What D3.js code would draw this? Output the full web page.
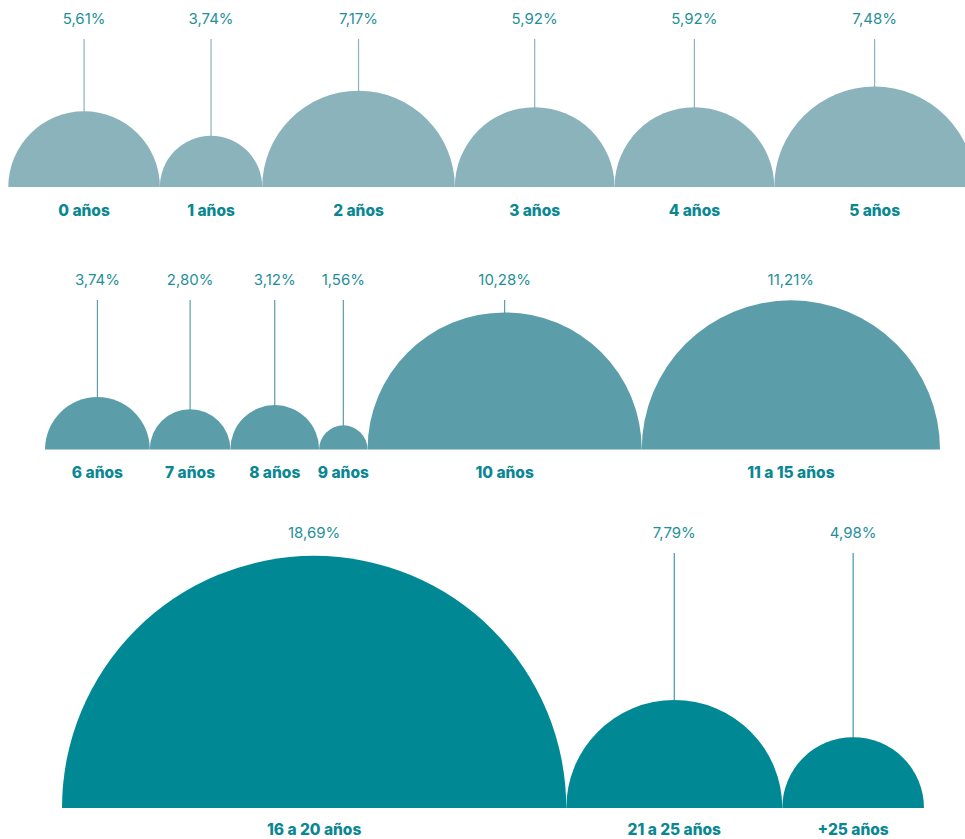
<!DOCTYPE html>
<html>
<head>
<meta charset="utf-8">
<script src="https://cdn.jsdelivr.net/npm/d3@7"></script>
<style>
  body { margin: 0; background: #fff; }
  svg { display: block; }
</style>
</head>
<body>
<div id="chart"></div>
<script>
// data: one pair of arrays per row
var categories1 = ["0 años", "1 años", "2 años", "3 años", "4 años", "5 años"];
var values1 = [5.61, 3.74, 7.17, 5.92, 5.92, 7.48];

var categories2 = ["6 años", "7 años", "8 años", "9 años", "10 años", "11 a 15 años"];
var values2 = [3.74, 2.80, 3.12, 1.56, 10.28, 11.21];

var categories3 = ["16 a 20 años", "21 a 25 años", "+25 años"];
var values3 = [18.69, 7.79, 4.98];

var width = 965, height = 839;

var svg = d3.select("#chart")
  .append("svg")
  .attr("width", width)
  .attr("height", height);

var fmt = d3.formatLocale({decimal: ",", thousands: ".", grouping: [3], currency: ["", "€"]}).format(".2f");

// layout for each row
var rows = [
  {cats: categories1, vals: values1, x0: 8.3, x1: 975, base: 187, lineTop: 39, r0: 2, fill: "#8bb3bc", line: "#8bb3bc", labelDy: 23.5},
  {cats: categories2, vals: values2, x0: 45, x1: 940, base: 449.5, lineTop: 300, r0: 4, fill: "#5b9eaa", line: "#5b9eaa", labelDy: 23.5},
  {cats: categories3, vals: values3, x0: 62, x1: 924, base: 808, lineTop: 553, r0: 5, fill: "#008995", line: "#3c9ea8", labelDy: 21.5}
];

var arc = d3.arc()
  .innerRadius(0)
  .startAngle(-Math.PI / 2)
  .endAngle(Math.PI / 2);

rows.forEach(function(row) {
  // radius grows linearly with the value, sized so the row fills its span
  var n = row.vals.length;
  var k = ((row.x1 - row.x0) / 2 - n * row.r0) / d3.sum(row.vals);
  var r = d3.scaleLinear().domain([0, 1]).range([row.r0, row.r0 + k]);

  // centres: each half circle starts where the previous one ends
  var items = [];
  var x = row.x0;
  row.vals.forEach(function(v, i) {
    var rad = r(v);
    items.push({cat: row.cats[i], val: v, r: rad, cx: x + rad});
    x += 2 * rad;
  });

  var g = svg.append("g");

  // leader lines (only where there is room above the arc)
  g.selectAll("line.lead")
    .data(items.filter(function(d) { return row.base - d.r > row.lineTop + 4; }))
    .enter()
    .append("line")
      .attr("class", "lead")
      .attr("x1", function(d) { return d.cx; })
      .attr("x2", function(d) { return d.cx; })
      .attr("y1", row.lineTop)
      .attr("y2", function(d) { return row.base - d.r + 1; })
      .attr("stroke", row.line)
      .attr("stroke-width", 1.2);

  // half circles
  g.selectAll("path.half")
    .data(items)
    .enter()
    .append("path")
      .attr("class", "half")
      .attr("transform", function(d) { return "translate(" + d.cx + "," + row.base + ")"; })
      .attr("d", function(d) { return arc({outerRadius: d.r}); })
      .attr("fill", row.fill);

  // percentage labels
  g.selectAll("text.pct")
    .data(items)
    .enter()
    .append("text")
      .attr("class", "pct")
      .attr("x", function(d) { return d.cx; })
      .attr("y", row.lineTop - 20)
      .attr("dy", "0.35em")
      .attr("text-anchor", "middle")
      .style("font-family", "Inter, 'Open Sans', sans-serif")
      .style("font-size", "15px")
      .style("font-weight", 400)
      .style("fill", "#1f8f9a")
      .text(function(d) { return fmt(d.val) + "%"; });

  // category labels
  g.selectAll("text.cat")
    .data(items)
    .enter()
    .append("text")
      .attr("class", "cat")
      .attr("x", function(d) { return d.cx; })
      .attr("y", row.base + row.labelDy)
      .attr("dy", "0.35em")
      .attr("text-anchor", "middle")
      .style("font-family", "Inter, 'Open Sans', sans-serif")
      .style("font-size", "15.5px")
      .style("font-weight", 800)
      .style("fill", "#0a8792")
      .text(function(d) { return d.cat; });
});
</script>
</body>
</html>
